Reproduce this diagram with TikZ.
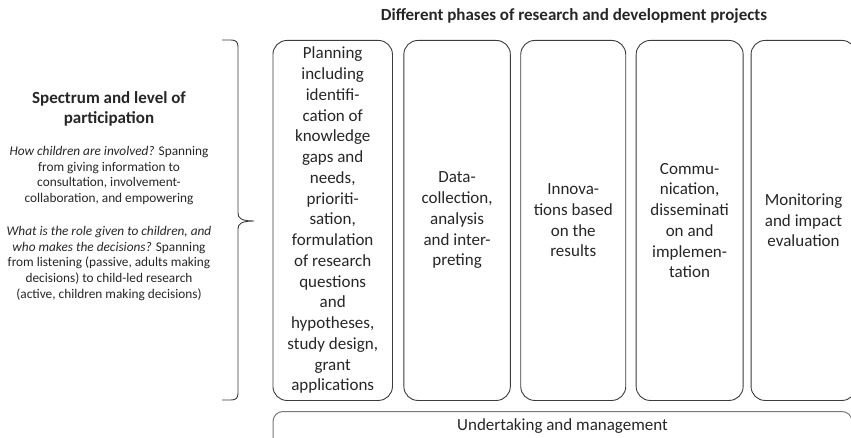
\documentclass[tikz,border=0pt]{standalone}
\usepackage{fontspec}
\setmainfont{Carlito}
\usetikzlibrary{positioning}
\definecolor{linegray}{HTML}{3C3C3C}
\definecolor{bargray}{HTML}{787878}
\definecolor{textgray}{HTML}{262626}
\tikzset{node distance=10pt,
    every node/.style={
        text=textgray},
    heading/.style={
        align=center,
        inner sep=0pt,
        font=\bfseries\fontsize{17}{20}\selectfont},
    leftpara/.style={
        align=center,
        inner sep=0pt,
        font=\fontsize{13.3}{15.6}\selectfont},
    phase/.style={
        draw=linegray,
        line width=0.9pt,
        rounded corners=14pt,
        minimum width=#1,
        minimum height=360pt,
        inner sep=2pt,
        align=center,
        anchor=north west,
        font=\fontsize{17}{20.75}\selectfont},
    bar/.style={
        draw=bargray,
        line width=1pt,
        rounded corners=10pt,
        minimum width=579pt,
        inner ysep=0pt,
        text height=19pt,
        text depth=30pt,
        anchor=north west,
        font=\fontsize{17}{20.75}\selectfont},
    bracket/.style={
        draw=linegray,
        line width=0.9pt}}

\begin{document}
\begin{tikzpicture}[x=1pt,y=-1pt]
        \useasboundingbox (0,0) rectangle (851,438);
        \clip (0,0) rectangle (851,438);

        \node[heading] (phases) at (574,16) {Different phases of research and development projects};

        \node[heading] (spectrum) at (109,108.5) {Spectrum and level of\\participation};
        \node[leftpara] (how) at (109,175.5) {{\itshape How children are involved?} Spanning\\from giving information to\\consultation, involvement-\\collaboration, and empowering};
        \node[leftpara] (role) at (109,263.5) {{\itshape What is the role given to children, and}\\{\itshape who makes the decisions?} Spanning\\from listening (passive, adults making\\decisions) to child-led research\\(active, children making decisions)};

        \coordinate (bracetop) at (222,40);
        \coordinate (bracetip) at (254,221);
        \coordinate (bracebot) at (222,400);
        \draw[bracket] (bracetop) -- (231,40) .. controls (236,40) and (238,42) .. (238,47)
            -- (238,213) .. controls (238,218) and (241,221) .. (bracetip)
            .. controls (241,221) and (238,224) .. (238,229)
            -- (238,393) .. controls (238,398) and (236,400) .. (231,400) -- (bracebot);

        \node[phase=119.5pt] (ph1) at (272.5,40) {Planning\\including\\identifi-\\cation of\\knowledge\\gaps and\\needs,\\prioriti-\\sation,\\formulation\\of research\\questions\\and\\hypotheses,\\study design,\\grant\\applications};
        \node[phase=106.5pt,right=10.5pt of ph1] (ph2) {Data-\\collection,\\analysis\\and inter-\\preting};
        \node[phase=105pt,right=9.5pt of ph2] (ph3) {Innova-\\tions based\\on the\\results};
        \node[phase=107pt,right=9.5pt of ph3] (ph4) {Commu-\\nication,\\disseminati\\on and\\implemen-\\tation};
        \node[phase=105pt,right=7pt of ph4] (ph5) {Monitoring\\and impact\\evaluation};

        \node[bar] (undertaking) at (272.5,411) {Undertaking and management};

    \end{tikzpicture}
\end{document}
